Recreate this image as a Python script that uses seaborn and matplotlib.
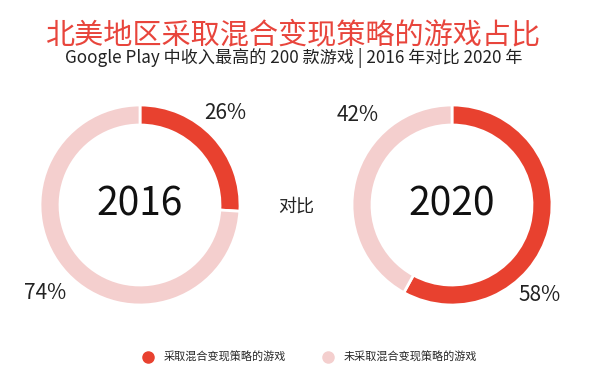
import matplotlib
matplotlib.use("Agg")
import matplotlib.pyplot as plt
import seaborn as sns
from matplotlib.lines import Line2D

# data
years = ["2016", "2020"]
hybrid_share = [26, 58]
other_share = [74, 42]
series_names = ["采取混合变现策略的游戏", "未采取混合变现策略的游戏"]
title = "北美地区采取混合变现策略的游戏占比"
subtitle = "Google Play 中收入最高的 200 款游戏 | 2016 年对比 2020 年"

sns.set_theme(style="white")
plt.rcParams['font.family'] = ['Noto Sans CJK SC', 'DejaVu Sans']

red, pink = "#E8412F", "#F4CFCE"
colors = [red, pink]

fig = plt.figure(figsize=(6, 3.92), dpi=100)
fig.patch.set_facecolor("white")

fig.text(0.488, 1 - 35 / 392, title, ha="center", va="center", fontsize=21, color="#E8453C")
fig.text(0.49, 1 - 58 / 392, subtitle, ha="center", va="center", fontsize=12.3, color="#222222")

# label offsets (axes data units) for each donut: (first, second)
label_pos = [((0.85, 0.92), (-0.95, -0.88)), ((0.88, -0.9), (-0.94, 0.9))]
lefts = [40 / 600, 352 / 600]

for i, yr in enumerate(years):
    ax = fig.add_axes([lefts[i], 87 / 392, 200 / 600, 200 / 392])
    ax.pie([hybrid_share[i], other_share[i]], colors=colors, startangle=90,
           counterclock=False, radius=1,
           wedgeprops=dict(width=0.2, edgecolor="white", linewidth=2))
    ax.set_xlim(-1, 1)
    ax.set_ylim(-1, 1)
    ax.set_aspect("equal")
    ax.axis("off")
    ax.text(0, 0, yr, ha="center", va="center", fontsize=28, color="#111111")
    (x1, y1), (x2, y2) = label_pos[i]
    ax.text(x1, y1, f"{hybrid_share[i]}%", ha="center", va="center", fontsize=15, color="#222222")
    ax.text(x2, y2, f"{other_share[i]}%", ha="center", va="center", fontsize=15, color="#222222")

fig.text(296 / 600, 1 - 207 / 392, "对比", ha="center", va="center", fontsize=13, color="#222222")

handles = [Line2D([0], [0], marker="o", linestyle="", markersize=8,
                  markerfacecolor=c, markeredgecolor=c) for c in colors]
fig.legend(handles, series_names, loc="center", bbox_to_anchor=(0.512, 1 - 357 / 392),
           ncol=2, frameon=False, fontsize=8, handletextpad=0.4, columnspacing=2.8)

fig.savefig("out.png", dpi=100, facecolor="white")
